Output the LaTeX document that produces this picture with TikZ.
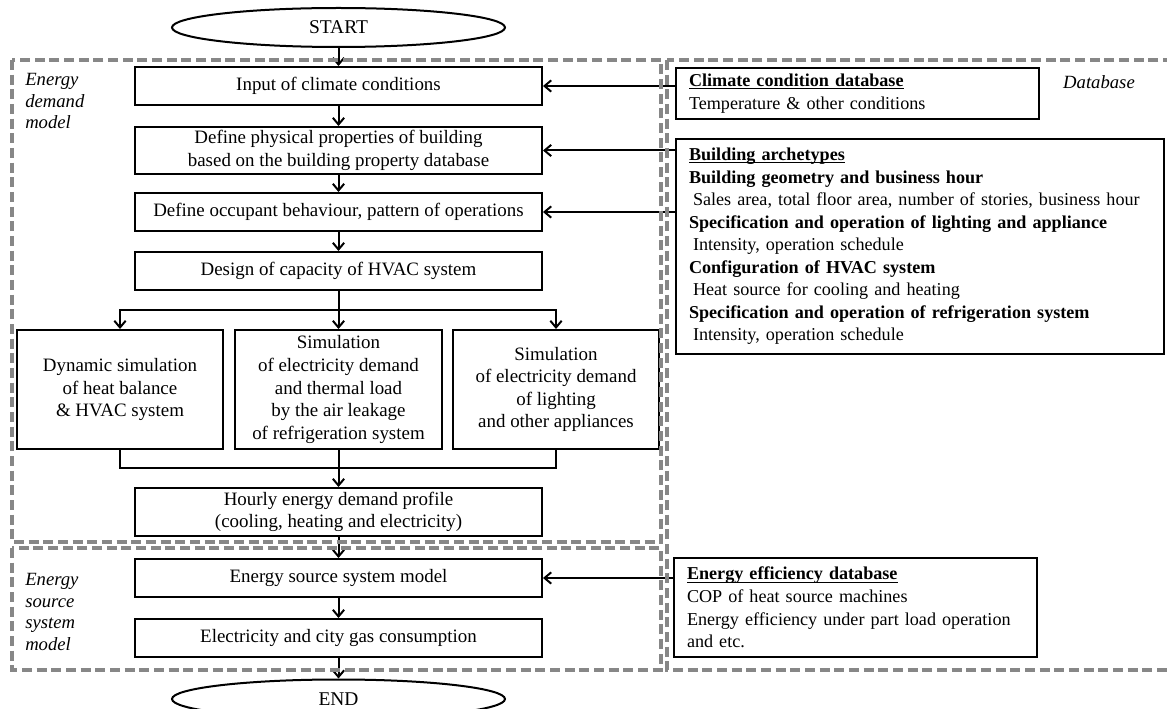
\documentclass[tikz,border=0pt]{standalone}
\usepackage{fontspec}
\setmainfont{Liberation Serif}
\usetikzlibrary{arrows.meta,shapes.geometric}
\definecolor{rg}{RGB}{135,135,135}
\newcommand{\myul}[1]{\setbox0\hbox{#1}\rlap{\rule[-1.9pt]{\wd0}{0.65pt}}\box0}
\begin{document}
\begin{tikzpicture}[x=0.75pt,y=-0.75pt,
  every node/.style={font=\fontsize{14.2}{16.9}\selectfont},
  box/.style={draw,line width=1.5pt,align=center,inner sep=0pt},
  dbbox/.style={draw,line width=1.5pt,align=left,inner xsep=9.75pt,inner ysep=0pt,font=\fontsize{13.6}{16.9}\selectfont},
  oval/.style={draw,ellipse,line width=1.5pt,inner sep=0pt,minimum width=333*0.75pt,minimum height=39*0.75pt,font=\fontsize{14.6}{16.9}\selectfont},
  arr/.style={line width=1.5pt,-{Straight Barb[length=5pt,width=8.5pt]}},
  ln/.style={line width=1.5pt},
  region/.style={draw=rg,line width=2.5pt,dash pattern=on 7.5pt off 3.5pt},
  lab/.style={font=\itshape\fontsize{14}{16.4}\selectfont,align=left,inner sep=0pt}]
\useasboundingbox (0,0) rectangle (1167,709);
\clip (0,0) rectangle (1167,709);

% main flow
\node[oval] (start) at (338.5,27.5) {START};
\node[box,minimum width=407*0.75pt,minimum height=38*0.75pt] (input) at (338.5,86) {Input of climate conditions};
\node[box,minimum width=407*0.75pt,minimum height=47*0.75pt] (phys) at (338.5,150.5) {Define physical properties of building\\based on the building property database};
\node[box,minimum width=407*0.75pt,minimum height=38*0.75pt] (occ) at (338.5,212) {Define occupant behaviour, pattern of operations};
\node[box,minimum width=407*0.75pt,minimum height=38*0.75pt] (design) at (338.5,271) {Design of capacity of HVAC system};
\node[box,minimum width=206*0.75pt,minimum height=119*0.75pt] (dyn) at (120,389.5) {Dynamic simulation\\of heat balance\\\& HVAC system};
\node[box,minimum width=207*0.75pt,minimum height=119*0.75pt] (mid) at (338.5,389.5) {Simulation\\of electricity demand\\and thermal load\\by the air leakage\\of refrigeration system};
\node[box,minimum width=206*0.75pt,minimum height=119*0.75pt] (right) at (556,389.5) {Simulation\\of electricity demand\\of lighting\\and other appliances};
\node[box,minimum width=407*0.75pt,minimum height=48*0.75pt] (hourly) at (338.5,512) {Hourly energy demand profile\\(cooling, heating and electricity)};
\node[box,minimum width=407*0.75pt,minimum height=38*0.75pt] (source) at (338.5,578) {Energy source system model};
\node[box,minimum width=407*0.75pt,minimum height=38*0.75pt] (elec) at (338.5,638) {Electricity and city gas consumption};
\node[oval] (end) at (338.5,699) {END};

% databases
\node[dbbox,text width=337*0.75pt,minimum height=51*0.75pt] (climdb) at (857.5,93.5)
  {\textbf{\myul{Climate condition database}}\\Temperature \& other conditions};
\node[dbbox,text width=462*0.75pt,minimum height=215*0.75pt] (arch) at (920,246.5)
  {\textbf{\myul{Building archetypes}}\\
   \textbf{Building geometry and business hour}\\
   \hspace*{3pt}Sales area, total floor area, number of stories, business hour\\
   \textbf{Specification and operation of lighting and appliance}\\
   \hspace*{3pt}Intensity, operation schedule\\
   \textbf{Configuration of HVAC system}\\
   \hspace*{3pt}Heat source for cooling and heating\\
   \textbf{Specification and operation of refrigeration system}\\
   \hspace*{3pt}Intensity, operation schedule};
\node[dbbox,text width=337*0.75pt,minimum height=99*0.75pt] (effdb) at (855.5,607.5)
  {\textbf{\myul{Energy efficiency database}}\\COP of heat source machines\\Energy efficiency under part load operation\\and etc.};

% labels
\node[lab,anchor=west] (lblD) at (25,101) {Energy\\demand\\model};
\node[lab,anchor=west] (lblS) at (25,612) {Energy\\source\\system\\model};
\node[lab] (lblDB) at (1099,82) {Database};

% connectors
\draw[arr] (start) -- (input);
\draw[arr] (input) -- (phys);
\draw[arr] (phys) -- (occ);
\draw[arr] (occ) -- (design);
\coordinate (br) at (338.5,310);
\draw[arr] (design) -- (mid);
\draw[arr] (br) -| (dyn.north);
\draw[arr] (br) -| (right.north);
\coordinate (mg) at (338.5,468);
\draw[ln] (dyn.south) |- (mg);
\draw[ln] (right.south) |- (mg);
\draw[arr] (mid) -- (hourly);
\draw[arr] (hourly) -- (source);
\draw[arr] (source) -- (elec);
\draw[arr] (elec) -- (end);

\draw[arr] (climdb.west |- input.east) -- (input.east);
\draw[arr] (arch.west |- phys.east) -- (phys.east);
\draw[arr] (arch.west |- occ.east) -- (occ.east);
\draw[arr] (effdb.west |- source.east) -- (source.east);

% dashed regions
\draw[region] (12,60) rectangle (661,542);
\draw[region] (12,548) rectangle (661,670);
\draw[region] (667,60) rectangle (1190,670);
\end{tikzpicture}
\end{document}
